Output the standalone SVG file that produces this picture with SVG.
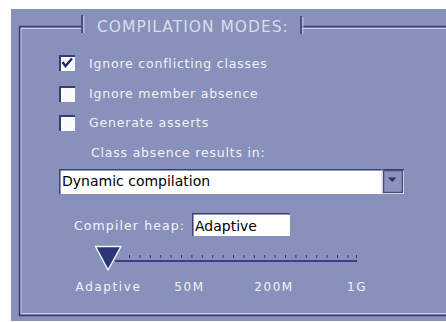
<svg xmlns="http://www.w3.org/2000/svg" width="446" height="322" viewBox="0 0 446 322">
<style>
.dark{stroke:#363c74;fill:none}
.light{stroke:#c9cfe6;fill:none}
.lbl{font-family:"DejaVu Sans",sans-serif;font-size:12.5px;fill:#f2f3f8;letter-spacing:0.8px}
.title{font-family:"DejaVu Sans",sans-serif;font-size:15.5px;fill:#dadde9;letter-spacing:1px}
.val{font-family:"DejaVu Sans",sans-serif;font-size:14px;fill:#000}
.tick{font-family:"DejaVu Sans",sans-serif;font-size:12px;fill:#f2f3f8;letter-spacing:1.6px;text-anchor:middle}
.box{fill:#fbfbfd}
</style>
<rect x="0" y="0" width="446" height="322" fill="#ffffff"/>
<rect x="11" y="9" width="435" height="312" fill="#8791bb"/>
<g id="group-border">
<path class="light" stroke-width="1" d="M82,28.5 H21 V313.5 H446 M301,28.5 H446"/>
<path class="dark" stroke-width="1.5" d="M82,26.5 H19.5 V315.5 H446 M301,26.5 H446"/>
<path class="dark" stroke-width="1.5" d="M82,15 V33 M301,16 V34"/>
<path class="light" stroke-width="1" d="M83.8,16 V33 M302.8,17 V34"/>
<text class="title" x="97" y="32">COMPILATION MODES:</text>
</g>
<g id="cb-ignore-conflicting">
<rect class="box" x="59" y="55" width="16" height="16"/>
<path class="dark" stroke-width="2" d="M60,71 V56 H75"/>
<polyline points="62.5,62 65.5,66 72,58.5" fill="none" stroke="#1f2a5c" stroke-width="2.4"/>
<text class="lbl" x="89" y="68">Ignore conflicting classes</text>
</g>
<g id="cb-ignore-member">
<rect class="box" x="59" y="86" width="16" height="16"/>
<path class="dark" stroke-width="2" d="M60,102 V87 H75"/>
<text class="lbl" x="89" y="98">Ignore member absence</text>
</g>
<g id="cb-generate-asserts">
<rect class="box" x="59" y="115" width="16" height="16"/>
<path class="dark" stroke-width="2" d="M60,131 V116 H75"/>
<text class="lbl" x="89" y="127">Generate asserts</text>
</g>
<g id="class-absence-label">
<text class="lbl" x="91" y="157">Class absence results in:</text>
</g>
<g id="combo">
<rect x="59" y="169" width="345" height="25" fill="#ffffff"/>
<path class="dark" stroke-width="1.5" d="M59.8,194 V169.8 H404"/>
<rect x="383.5" y="170.5" width="19" height="22" fill="#8a94bd" stroke="#454b7e" stroke-width="1.5"/>
<path class="light" stroke-width="1" d="M382,194 V169.5"/>
<polygon points="388,177.5 396.5,177.5 392.2,182" fill="#2a3266"/>
<text class="val" x="62" y="186">Dynamic compilation</text>
</g>
<g id="heap-label">
<text class="lbl" x="74" y="230" style="letter-spacing:1.1px">Compiler heap:</text>
</g>
<g id="heap-field">
<rect x="192" y="213" width="98" height="23" fill="#ffffff"/>
<path class="dark" stroke-width="1.5" d="M192.8,236 V213.8 H290"/>
<text class="val" x="195" y="231">Adaptive</text>
</g>
<g id="slider">
<line x1="115" y1="261" x2="357" y2="261" stroke="#3b3f88" stroke-width="2"/>
<path stroke="#2e3468" stroke-width="1" d="M129.5,255V258 M139.9,255V258 M150.3,255V258 M160.7,255V258 M171.1,255V258 M181.5,255V258 M191.9,255V258 M202.3,255V258 M212.7,255V258 M223.1,255V258 M233.5,255V258 M243.9,255V258 M254.3,255V258 M264.7,255V258 M275.1,255V258 M285.5,255V258 M295.9,255V258 M306.3,255V258 M316.7,255V258 M327.1,255V258 M337.5,255V258 M347.9,255V258 M356.5,255V258"/>
<polygon points="95.5,246.5 121,246.5 108,270" fill="#2b3677" stroke="#f4f5fa" stroke-width="1.5" stroke-linejoin="round"/>
<text class="tick" x="108.5" y="291">Adaptive</text>
<text class="tick" x="189.5" y="291">50M</text>
<text class="tick" x="274" y="291">200M</text>
<text class="tick" x="357" y="291">1G</text>
</g>
</svg>
